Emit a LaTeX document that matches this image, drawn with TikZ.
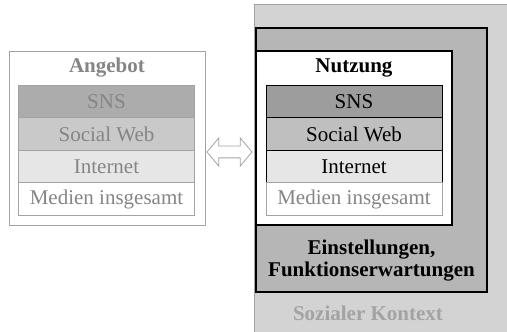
\documentclass[tikz,border=0pt]{standalone}
\usepackage{fontspec}
\setmainfont{Liberation Serif}
\usetikzlibrary{shapes.arrows}
\definecolor{kontextgray}{HTML}{D3D3D3}
\definecolor{einstgray}{HTML}{B6B6B6}
\definecolor{snsgray}{HTML}{9D9D9D}
\definecolor{webgray}{HTML}{BFBFBF}
\definecolor{netgray}{HTML}{E6E6E6}
\definecolor{palegray}{HTML}{858585}
\definecolor{linegray}{HTML}{A3A3A3}
\begin{document}
\begin{tikzpicture}[x=1pt,y=1pt,
  every node/.style={font=\fontsize{21}{22}\selectfont, inner sep=0pt},
  row/.style={draw, minimum width=176pt, minimum height=32.3pt, line width=0.8pt},
  pale/.style={draw=linegray, text=palegray}]

\useasboundingbox (0,0) rectangle (507,332);

% Sozialer Kontext and Einstellungen
\node[fill=kontextgray, minimum width=252pt, minimum height=327pt] (kontext) at (381,163.5) {};
\draw[linegray, line width=0.8pt] (kontext.south west) -- (kontext.north west) -- (kontext.north east);
\node[fill=einstgray, draw, line width=1.2pt, minimum width=231pt, minimum height=264pt] (einst) at (371.5,172) {};
\node[font=\fontsize{21}{22}\selectfont\bfseries, align=center] (einsttext) at (371.5,71) {Einstellungen,\\Funktionserwartungen};
\node[font=\fontsize{21}{22}\selectfont\bfseries, text=linegray] (kontexttext) at (368,19) {Sozialer Kontext};

% Angebot
\node[draw=linegray, line width=0.8pt, minimum width=196pt, minimum height=174pt] (angebot) at (107,194) {};
\node[font=\fontsize{21}{22}\selectfont\bfseries, text=palegray] (angebottext) at (107,264) {Angebot};
\node[row, pale, fill=snsgray!85] (asns) at (106.5,230) {SNS};
\node[row, pale, fill=webgray!85] (aweb) at (106.5,198) {Social Web};
\node[row, pale, fill=netgray] (anet) at (106.5,165.5) {Internet};
\node[row, pale, fill=white] (amed) at (106.5,133) {Medien insgesamt};

% Nutzung
\node[draw, fill=white, line width=1.2pt, minimum width=196pt, minimum height=174pt] (nutzung) at (354,194) {};
\node[font=\fontsize{21}{22}\selectfont\bfseries] (nutzungtext) at (354,264) {Nutzung};
\node[row, fill=snsgray] (nsns) at (354,230) {SNS};
\node[row, fill=webgray] (nweb) at (354,198) {Social Web};
\node[row, fill=netgray] (nnet) at (354,165.5) {Internet};
\node[row, pale, fill=white] (nmed) at (354,133) {Medien insgesamt};

% Double arrow
\node[double arrow, draw=linegray, fill=white, line width=0.8pt, inner sep=5.5pt,
  double arrow head extend=8pt, double arrow tip angle=100, minimum height=45pt] (pfeil) at (229.5,180) {};

\end{tikzpicture}
\end{document}
